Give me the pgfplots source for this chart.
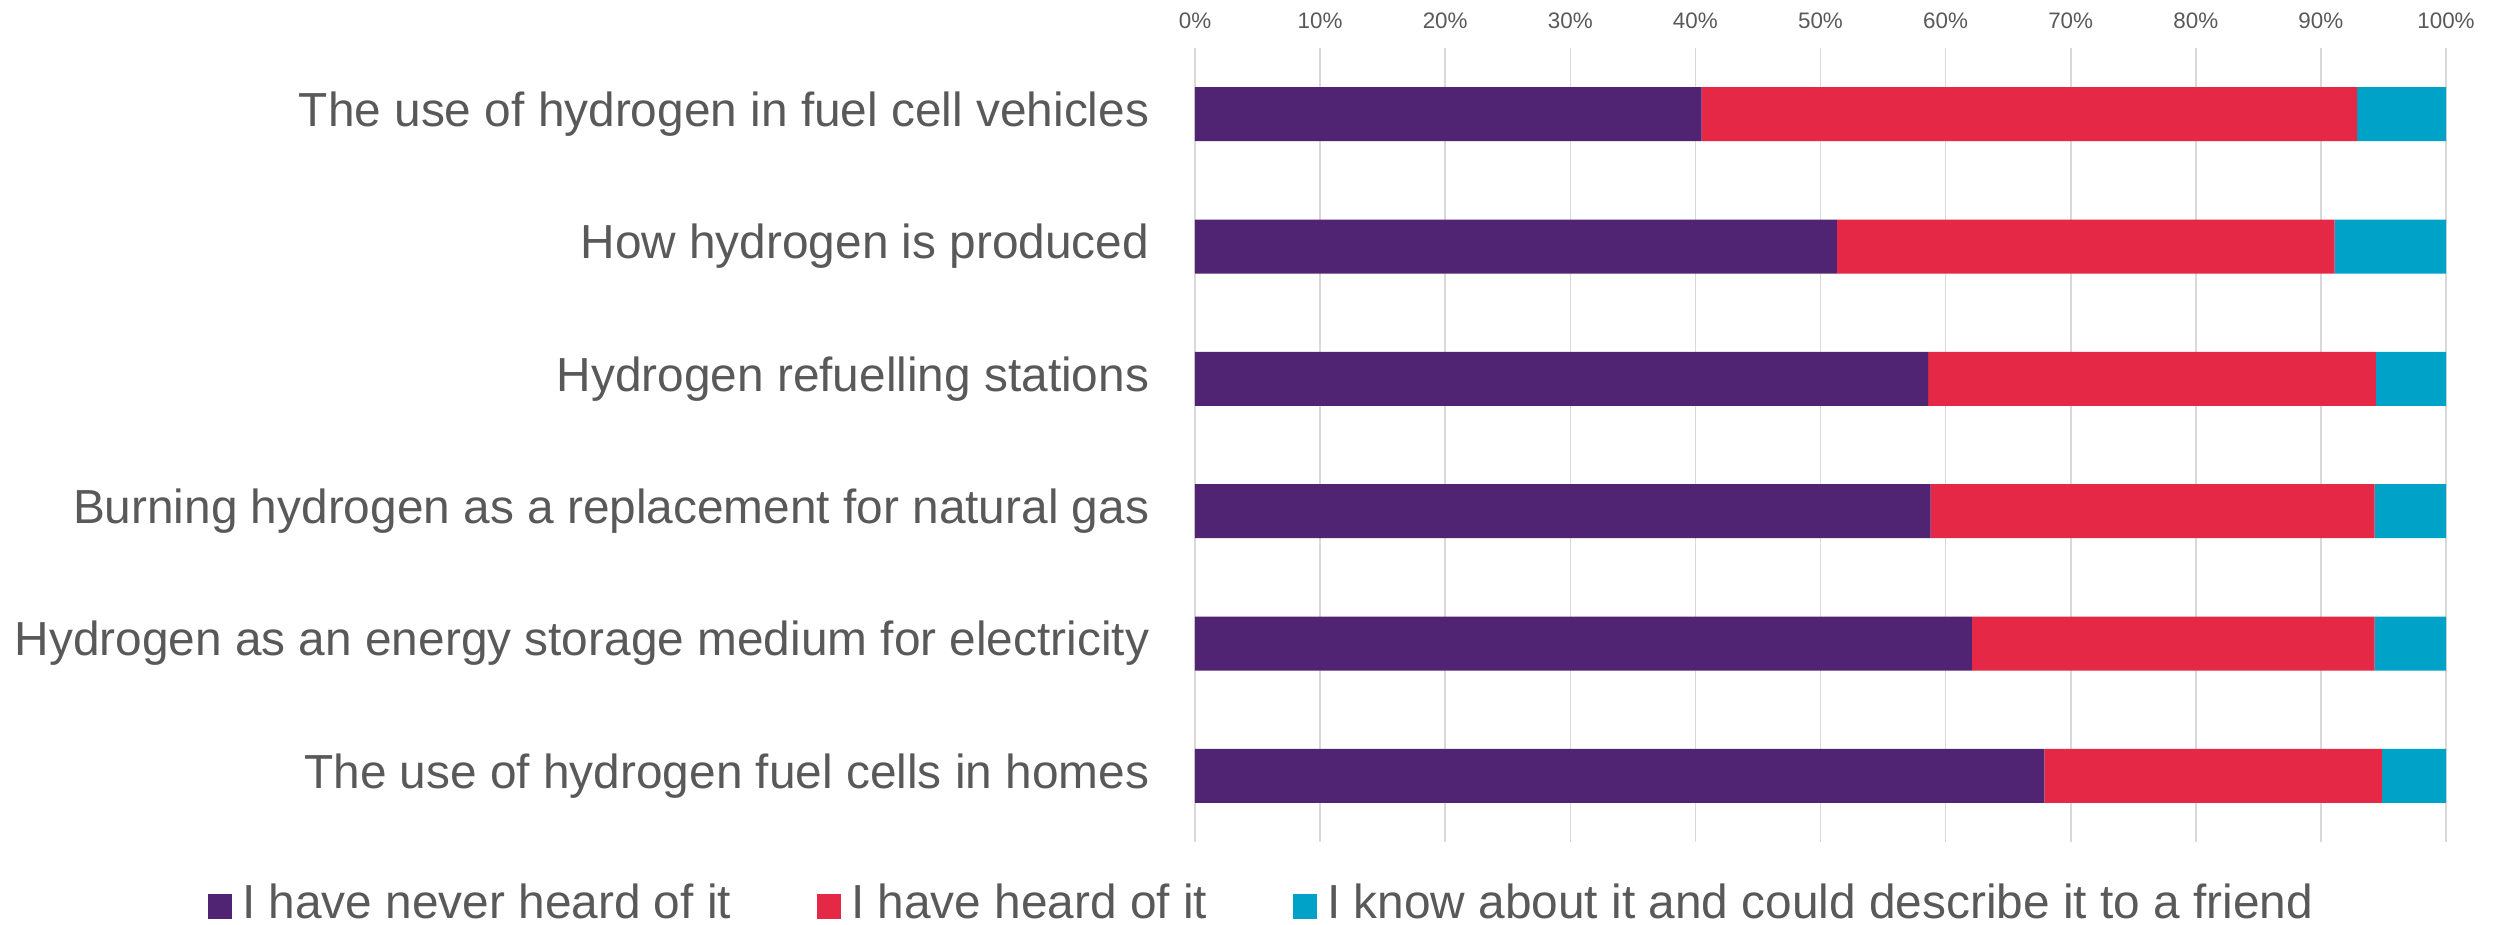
\documentclass[border=0pt]{standalone}
\usepackage{pgfplots}
\pgfplotsset{compat=1.18}
\usepackage{fontspec}
\setmainfont{Liberation Sans}
\definecolor{cpurple}{HTML}{512373}
\definecolor{cred}{HTML}{E42846}
\definecolor{ccyan}{HTML}{00A3C7}
\definecolor{ctext}{HTML}{595959}
\definecolor{cgrid}{HTML}{D9D9D9}
\begin{document}
\begin{tikzpicture}
\useasboundingbox (0,0) rectangle (624pt,231pt);
\begin{axis}[
  at={(298.75pt,20.5pt)}, anchor=south west,
  scale only axis, width=312.75pt, height=198.5pt,
  xbar stacked, bar width=13.5pt,
  xmin=0, xmax=100, ymin=-0.5, ymax=5.5,
  y dir=reverse,
  axis line style={draw=none},
  major tick length=0pt,
  /pgf/number format/assume math mode=true,
  xtick={0,10,...,100},
  xticklabel pos=top,
  xticklabel={\pgfmathprintnumber{\tick}\%},
  xticklabel style={font=\fontsize{5.6pt}{6pt}\selectfont, text=ctext, anchor=base, yshift=5pt, inner sep=0pt},
  ytick={0,1,2,3,4,5},
  yticklabels={The use of hydrogen in fuel cell vehicles, How hydrogen is produced, Hydrogen refuelling stations, Burning hydrogen as a replacement for natural gas, Hydrogen as an energy storage medium for electricity, The use of hydrogen fuel cells in homes},
  yticklabel style={font=\fontsize{11.95pt}{14pt}\selectfont, text=ctext, anchor=east, inner sep=0pt, xshift=-11.25pt},
  xmajorgrids, major grid style={cgrid, line width=0.4pt},
  legend columns=3,
  legend style={draw=none, fill=none, at={(-0.7898,-0.078)}, anchor=west, inner sep=0pt,
    font=\fontsize{11.95pt}{14pt}\selectfont, text=ctext,
    /tikz/every even column/.append style={column sep=19.4pt}},
  legend image code/.code={\fill[#1] (0pt,-3.8pt) rectangle (6pt,2.45pt); \path (6.6pt,0pt);},
]
\addplot[fill=cpurple, draw=none] coordinates {(40.5,0) (51.3,1) (58.6,2) (58.8,3) (62.1,4) (67.9,5)};
\addplot[fill=cred, draw=none] coordinates {(52.4,0) (39.8,1) (35.8,2) (35.5,3) (32.2,4) (27.0,5)};
\addplot[fill=ccyan, draw=none] coordinates {(7.1,0) (8.9,1) (5.6,2) (5.7,3) (5.7,4) (5.1,5)};
\legend{I have never heard of it, I have heard of it, I know about it and could describe it to a friend}
\end{axis}
\end{tikzpicture}
\end{document}
